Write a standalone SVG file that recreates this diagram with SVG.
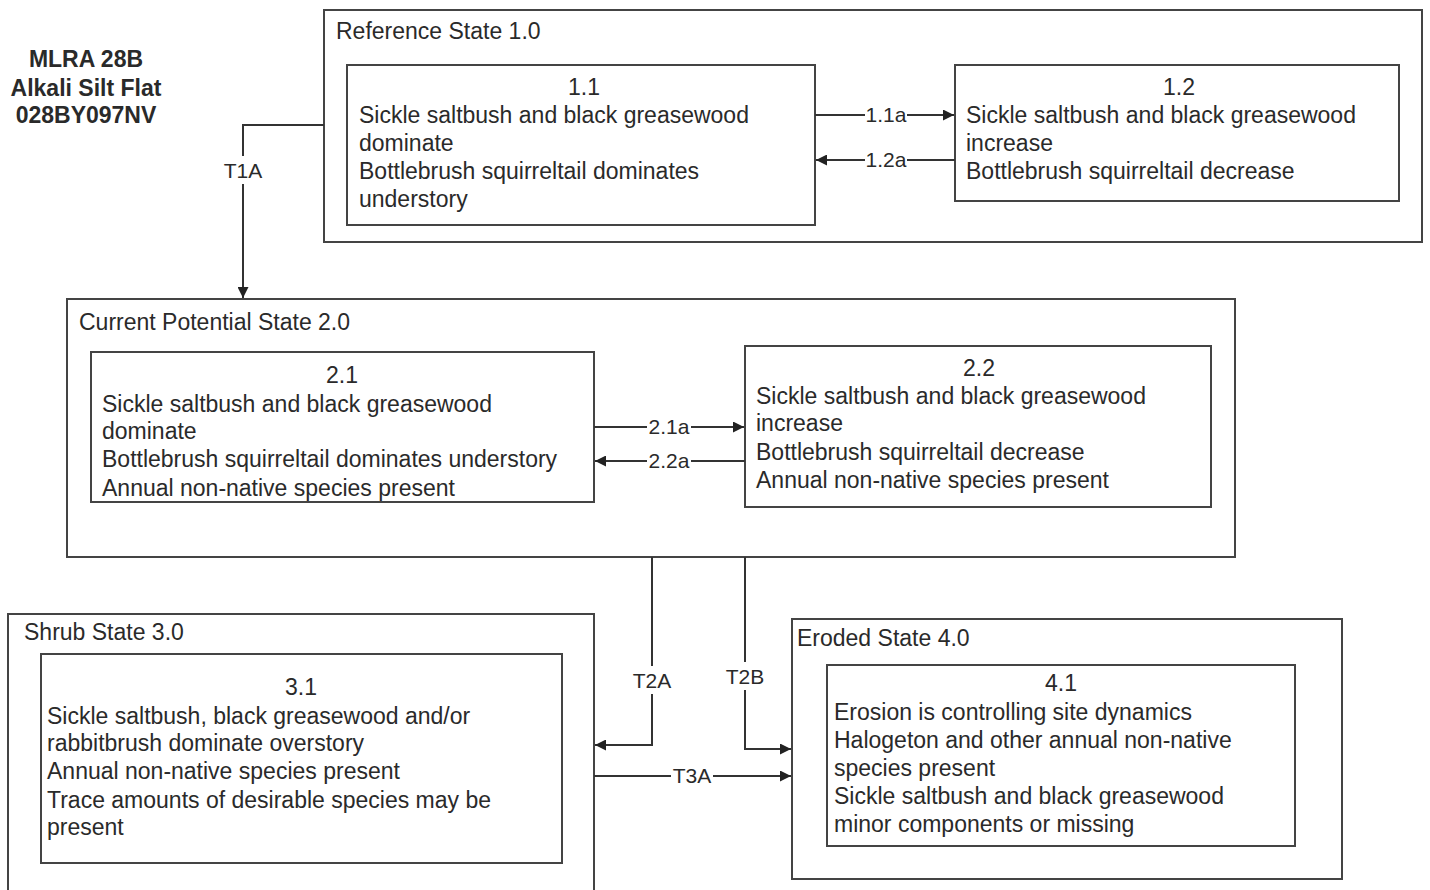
<svg xmlns="http://www.w3.org/2000/svg" width="1430" height="890" viewBox="0 0 1430 890">
<defs>
<marker id="arr" viewBox="0 0 10 10" refX="10" refY="5" markerWidth="11" markerHeight="11" markerUnits="userSpaceOnUse" orient="auto"><path d="M0,0 L10,5 L0,10 z" fill="#222"/></marker>
<style>
.box{fill:none;stroke:#444;stroke-width:2}
.t{font-family:"Liberation Sans",Arial,sans-serif;font-size:23px;fill:#2a2a2a}
.c{text-anchor:middle}
.b{font-weight:bold;font-size:23px}
.ln{fill:none;stroke:#333;stroke-width:2}
.bg{fill:#fff}
.lab{font-family:"Liberation Sans",Arial,sans-serif;font-size:21px;fill:#2a2a2a;text-anchor:middle}
</style>
</defs>
<rect width="1430" height="890" fill="#fff"/>
<g id="title">
<text class="t c b" x="86" y="67">MLRA 28B</text>
<text class="t c b" x="86" y="96">Alkali Silt Flat</text>
<text class="t c b" x="86" y="123">028BY097NV</text>
</g>
<g id="state1">
<rect class="box" x="324" y="10" width="1098" height="232"/>
<text class="t" x="336" y="39">Reference State 1.0</text>
</g>
<g id="n11">
<rect class="box" x="347" y="65" width="468" height="160"/>
<text class="t c" x="584" y="95">1.1</text>
<text class="t" x="359" y="123">Sickle saltbush and black greasewood</text>
<text class="t" x="359" y="151">dominate</text>
<text class="t" x="359" y="179">Bottlebrush squirreltail dominates</text>
<text class="t" x="359" y="207">understory</text>
</g>
<g id="n12">
<rect class="box" x="955" y="65" width="444" height="136"/>
<text class="t c" x="1179" y="95">1.2</text>
<text class="t" x="966" y="123">Sickle saltbush and black greasewood</text>
<text class="t" x="966" y="151">increase</text>
<text class="t" x="966" y="179">Bottlebrush squirreltail decrease</text>
</g>
<g id="state2">
<rect class="box" x="67" y="299" width="1168" height="258"/>
<text class="t" x="79" y="330">Current Potential State 2.0</text>
</g>
<g id="n21">
<rect class="box" x="91" y="352" width="503" height="150"/>
<text class="t c" x="342" y="383">2.1</text>
<text class="t" x="102" y="412">Sickle saltbush and black greasewood</text>
<text class="t" x="102" y="439">dominate</text>
<text class="t" x="102" y="467">Bottlebrush squirreltail dominates understory</text>
<text class="t" x="102" y="496">Annual non-native species present</text>
</g>
<g id="n22">
<rect class="box" x="745" y="346" width="466" height="161"/>
<text class="t c" x="979" y="376">2.2</text>
<text class="t" x="756" y="404">Sickle saltbush and black greasewood</text>
<text class="t" x="756" y="431">increase</text>
<text class="t" x="756" y="460">Bottlebrush squirreltail decrease</text>
<text class="t" x="756" y="488">Annual non-native species present</text>
</g>
<g id="state3">
<rect class="box" x="8" y="614" width="586" height="290"/>
<text class="t" x="24" y="640">Shrub State 3.0</text>
</g>
<g id="n31">
<rect class="box" x="41" y="654" width="521" height="209"/>
<text class="t c" x="301" y="695">3.1</text>
<text class="t" x="47" y="724">Sickle saltbush, black greasewood and/or</text>
<text class="t" x="47" y="751">rabbitbrush dominate overstory</text>
<text class="t" x="47" y="779">Annual non-native species present</text>
<text class="t" x="47" y="808">Trace amounts of desirable species may be</text>
<text class="t" x="47" y="835">present</text>
</g>
<g id="state4">
<rect class="box" x="792" y="619" width="550" height="260"/>
<text class="t" x="797" y="646">Eroded State 4.0</text>
</g>
<g id="n41">
<rect class="box" x="827" y="665" width="468" height="181"/>
<text class="t c" x="1061" y="691">4.1</text>
<text class="t" x="834" y="720">Erosion is controlling site dynamics</text>
<text class="t" x="834" y="748">Halogeton and other annual non-native</text>
<text class="t" x="834" y="776">species present</text>
<text class="t" x="834" y="804">Sickle saltbush and black greasewood</text>
<text class="t" x="834" y="832">minor components or missing</text>
</g>
<g id="connectors">
<path class="ln" d="M324,125 H243 V298" marker-end="url(#arr)"/>
<path class="ln" d="M815,115 H954" marker-end="url(#arr)"/>
<path class="ln" d="M955,160 H816" marker-end="url(#arr)"/>
<path class="ln" d="M594,427 H744" marker-end="url(#arr)"/>
<path class="ln" d="M745,461 H595" marker-end="url(#arr)"/>
<path class="ln" d="M652,557 V745 H595" marker-end="url(#arr)"/>
<path class="ln" d="M745,557 V749 H791" marker-end="url(#arr)"/>
<path class="ln" d="M594,776 H791" marker-end="url(#arr)"/>
<rect class="bg" x="222" y="156" width="42" height="28"/>
<rect class="bg" x="865" y="103" width="42" height="24"/>
<rect class="bg" x="865" y="148" width="42" height="24"/>
<rect class="bg" x="647" y="415" width="44" height="24"/>
<rect class="bg" x="647" y="449" width="44" height="24"/>
<rect class="bg" x="631" y="666" width="42" height="28"/>
<rect class="bg" x="724" y="662" width="42" height="28"/>
<rect class="bg" x="671" y="764" width="42" height="24"/>
<text class="lab" x="243" y="178">T1A</text>
<text class="lab" x="886" y="122">1.1a</text>
<text class="lab" x="886" y="167">1.2a</text>
<text class="lab" x="669" y="434">2.1a</text>
<text class="lab" x="669" y="468">2.2a</text>
<text class="lab" x="652" y="688">T2A</text>
<text class="lab" x="745" y="684">T2B</text>
<text class="lab" x="692" y="783">T3A</text>
</g>
</svg>
